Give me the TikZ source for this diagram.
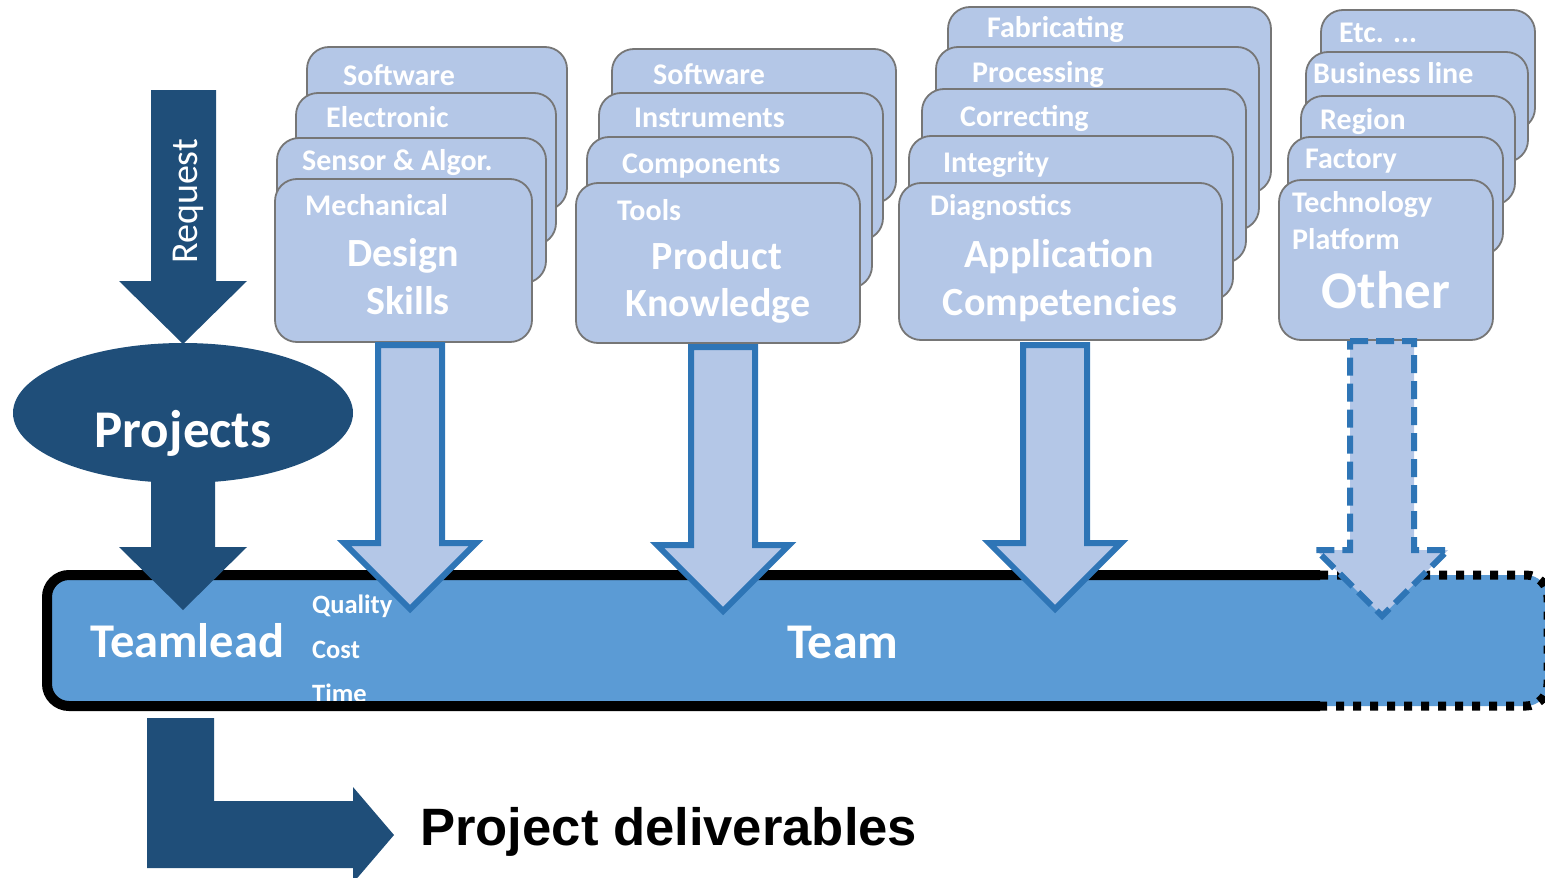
\documentclass[tikz,border=0pt]{standalone}
\usepackage{fontspec}
\setmainfont{Carlito}
\newfontfamily\arialfont{Liberation Sans}
\usetikzlibrary{shapes.geometric}
\definecolor{dkblue}{RGB}{31,78,121}
\definecolor{cardfill}{RGB}{180,199,231}
\definecolor{cardline}{RGB}{118,118,118}
\definecolor{arrline}{RGB}{46,117,182}
\definecolor{barblue}{RGB}{91,155,213}
\newcommand\mydownarrow[5][]{%
  \draw[downarrow,#1] ({#2-32},#3) -- ({#2+32},#3) -- ({#2+32},#4) -- ({#2+66},#4)
    -- (#2,#5) -- ({#2-66},#4) -- ({#2-32},#4) -- cycle;}
\begin{document}
\begin{tikzpicture}[x=1pt,y=-1pt,
  card/.style={draw=cardline,fill=cardfill,line width=1.8pt,rounded corners=22pt},
  cardlab/.style={text=white,font=\fontsize{30}{31}\selectfont\bfseries,anchor=base west,inner sep=0pt},
  cardtitle/.style={text=white,font=\fontsize{40}{41}\selectfont\bfseries,anchor=base,inner sep=0pt},
  downarrow/.style={draw=arrline,fill=cardfill,line width=6pt,line join=miter,miter limit=4},
  whitebig/.style={text=white,font=\fontsize{50}{52}\selectfont\bfseries,inner sep=0pt},
  qct/.style={text=white,font=\fontsize{26.5}{28}\selectfont\bfseries,anchor=base west,inner sep=0pt}]
\useasboundingbox (0,0) rectangle (1545,878);
\clip (0,0) rectangle (1545,878);

% ---------- Team bar ----------
\fill[barblue,rounded corners=22pt] (47,575) rectangle (1548,706);
\node[qct] (quality) at (312,613) {Quality};
\node[qct] (cost) at (312,658) {Cost};
\node[qct] (time) at (312,702) {Time};
\draw[black,line width=10pt,rounded corners=22pt] (1320,575) -- (47,575) -- (47,706) -- (1320,706);
\draw[black,line width=9pt,dash pattern=on 8pt off 9pt,rounded corners=22pt] (1320,575) -- (1548,575) -- (1548,706) -- (1320,706);
\node[whitebig,anchor=base west,font=\fontsize{48.5}{50}\selectfont\bfseries] (teamlead) at (90,657) {Teamlead};
\node[whitebig,anchor=base] (team) at (843,658) {Team};

% ---------- Request / Projects ----------
\fill[dkblue] (151,90) -- (216,90) -- (216,281) -- (247,281) -- (183,344) -- (119,281) -- (151,281) -- cycle;
\node[rotate=90,anchor=base west,text=white,font=\fontsize{38}{40}\selectfont,inner sep=0pt] (request) at (197,264) {Request};
\fill[dkblue] (151,478) -- (215,478) -- (215,547) -- (247,547) -- (183,610) -- (119,547) -- (151,547) -- cycle;
\node[ellipse,fill=dkblue,minimum width=340pt,minimum height=140pt,inner sep=0pt] (projects) at (183,413) {};
\node[whitebig,anchor=base,font=\fontsize{53}{55}\selectfont\bfseries] (projlab) at (183,447) {Projects};

% ---------- Design Skills ----------
\draw[card] (307,47) rectangle (567,210);
\node[cardlab] (d1) at (343,85) {Software};
\draw[card] (296,93) rectangle (556,245);
\node[cardlab] (d2) at (326,127) {Electronic};
\draw[card] (277,138) rectangle (546,283);
\node[cardlab] (d3) at (302,170) {Sensor \& Algor.};
\draw[card] (275,179) rectangle (532,342);
\node[cardlab] (d4) at (305,215) {Mechanical};
\node[cardtitle] (d5) at (403,266) {Design};
\node[cardtitle] (d6) at (408,314) {Skills};

% ---------- Product Knowledge ----------
\draw[card] (612,49) rectangle (896,203);
\node[cardlab] (p1) at (653,84) {Software};
\draw[card] (599,93) rectangle (883,240);
\node[cardlab] (p2) at (634,127) {Instruments};
\draw[card] (587,137) rectangle (872,288);
\node[cardlab] (p3) at (622,173) {Components};
\draw[card] (576,183) rectangle (860,343);
\node[cardlab] (p4) at (617,220) {Tools};
\node[cardtitle] (p5) at (717,269) {Product};
\node[cardtitle] (p6) at (718,316) {Knowledge};

% ---------- Application Competencies ----------
\draw[card] (948,7) rectangle (1271,193);
\node[cardlab] (a1) at (987,37) {Fabricating};
\draw[card] (936,47) rectangle (1259,230);
\node[cardlab] (a2) at (972,82) {Processing};
\draw[card] (922,89) rectangle (1246,263);
\node[cardlab] (a3) at (960,126) {Correcting};
\draw[card] (909,136) rectangle (1233,300);
\node[cardlab] (a4) at (943,172) {Integrity};
\draw[card] (899,183) rectangle (1222,340);
\node[cardlab] (a5) at (930,215) {Diagnostics};
\node[cardtitle] (a6) at (1059,267) {Application};
\node[cardtitle] (a7) at (1060,315) {Competencies};

% ---------- Other ----------
\draw[card] (1321,10) rectangle (1535,130);
\node[cardlab] (o1) at (1339,42) {Etc. ...};
\draw[card] (1306,52) rectangle (1528,162);
\node[cardlab] (o2) at (1313,83) {Business line};
\draw[card] (1301,96) rectangle (1515,205);
\node[cardlab] (o3) at (1320,129) {Region};
\draw[card] (1288,137) rectangle (1503,255);
\node[cardlab] (o4) at (1305,168) {Factory};
\draw[card] (1279,180) rectangle (1493,340);
\node[cardlab] (o5) at (1292,212) {Technology};
\node[cardlab] (o6) at (1292,249) {Platform};
\node[whitebig,anchor=base,font=\fontsize{53}{55}\selectfont\bfseries] (o7) at (1386,308) {Other};

% ---------- Down arrows ----------
\mydownarrow{410}{345}{543}{609}
\mydownarrow{723}{347}{545}{611}
\mydownarrow{1055}{345}{543}{609}
\mydownarrow[dash pattern=on 18pt off 8pt]{1382}{341}{550}{616}

% ---------- Deliverables ----------
\fill[dkblue] (147,718) -- (214,718) -- (214,801) -- (353,801) -- (353,787) -- (394,835) -- (353,883) -- (353,868) -- (147,868) -- cycle;
\node[anchor=base west,inner sep=0pt,font=\arialfont\bfseries\fontsize{52.6}{54}\selectfont] (deliv) at (420,845) {Project deliverables};
\end{tikzpicture}
\end{document}
